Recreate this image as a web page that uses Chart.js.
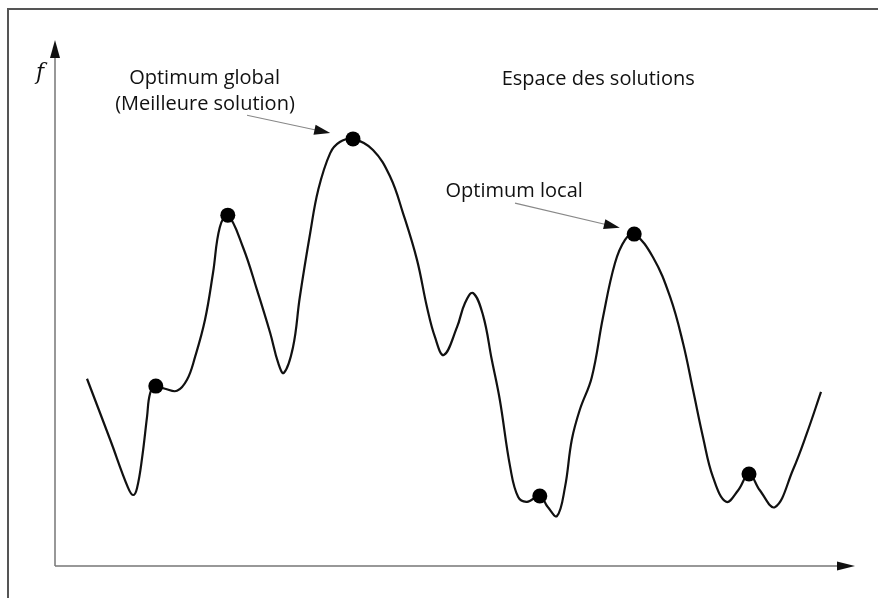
<!DOCTYPE html>
<html lang="fr">
<head>
<meta charset="utf-8">
<title>Espace des solutions</title>
<script src="https://cdn.jsdelivr.net/npm/chart.js@4.4.1/dist/chart.umd.min.js"></script>
<style>
  html, body { margin: 0; padding: 0; background: #fff; }
  .wrap { position: relative; width: 878px; height: 598px; }
  .frame {
    position: absolute; left: 7px; top: 8px; right: 0; bottom: 0;
    border-top: 2px solid #555; border-left: 2px solid #555;
    pointer-events: none;
  }
</style>
</head>
<body>
<div class="wrap">
  <canvas id="chart" width="878" height="598"></canvas>
  <div class="frame"></div>
</div>
<script>
// courbe f(x) (unités arbitraires 0..10)
const xs = [0.40, 0.69, 0.91, 0.975, 1.025, 1.09, 1.15, 1.19, 1.26, 1.375, 1.525, 1.65, 1.75, 1.875, 1.975,
  2.06, 2.16, 2.35, 2.525, 2.69, 2.79, 2.86, 2.975, 3.06, 3.19, 3.29, 3.44, 3.56, 3.725, 3.975, 4.19,
  4.35, 4.525, 4.65, 4.75, 4.86, 5.025, 5.125, 5.225, 5.35, 5.46, 5.56, 5.69, 5.79, 5.90, 6.06, 6.16,
  6.275, 6.375, 6.46, 6.56, 6.71, 6.85, 7.00, 7.125, 7.24, 7.475, 7.69, 7.85, 7.975, 8.10, 8.225,
  8.39, 8.54, 8.675, 8.81, 9.00, 9.225, 9.40, 9.575];
const fs = [3.56, 2.40, 1.50, 1.35, 1.48, 2.07, 2.83, 3.29, 3.42, 3.37, 3.33, 3.54, 3.97, 4.68, 5.57,
  6.44, 6.67, 6.06, 5.25, 4.43, 3.86, 3.67, 4.16, 5.11, 6.33, 7.15, 7.85, 8.06, 8.12, 7.91, 7.40,
  6.71, 5.82, 4.92, 4.35, 4.01, 4.54, 5.00, 5.19, 4.77, 3.92, 3.16, 1.88, 1.31, 1.22, 1.33, 1.12,
  0.95, 1.50, 2.40, 2.97, 3.59, 4.73, 5.76, 6.20, 6.31, 5.87, 5.11, 4.24, 3.35, 2.45, 1.69,
  1.22, 1.44, 1.75, 1.44, 1.12, 1.83, 2.53, 3.31];

// optima marqués d'un point
const optX = [1.26, 2.16, 3.725, 6.06, 7.24, 8.675];
const optF = [3.42, 6.67, 8.12, 1.33, 6.31, 1.75];

const notes = [
  { text: 'Optimum global', x: 1.87, y: 9.16 },
  { text: '(Meilleure solution)', x: 1.875, y: 8.67 },
  { text: 'Espace des solutions', x: 6.79, y: 9.14 },
  { text: 'Optimum local', x: 5.74, y: 7.02 }
];
const pointers = [
  { from: [2.40, 8.57], to: [3.44, 8.23] },
  { from: [5.75, 6.90], to: [7.06, 6.43] }
];

function arrowHead(ctx, x1, y1, x2, y2, len, half) {
  const a = Math.atan2(y2 - y1, x2 - x1);
  ctx.beginPath();
  ctx.moveTo(x2, y2);
  ctx.lineTo(x2 - len * Math.cos(a) + half * Math.sin(a), y2 - len * Math.sin(a) - half * Math.cos(a));
  ctx.lineTo(x2 - len * Math.cos(a) - half * Math.sin(a), y2 - len * Math.sin(a) + half * Math.cos(a));
  ctx.closePath();
  ctx.fill();
}

const axesPlugin = {
  id: 'axes',
  beforeDatasetsDraw(chart) {
    const { ctx, scales: { x, y } } = chart;
    const x0 = x.getPixelForValue(0), y0 = y.getPixelForValue(0);
    const xEnd = x.getPixelForValue(10), yEnd = y.getPixelForValue(10);
    ctx.save();
    ctx.strokeStyle = '#777';
    ctx.fillStyle = '#111';
    ctx.lineWidth = 1.5;
    ctx.beginPath();
    ctx.moveTo(x0, y0); ctx.lineTo(x0, yEnd + 10);
    ctx.moveTo(x0, y0); ctx.lineTo(xEnd - 10, y0);
    ctx.stroke();
    arrowHead(ctx, x0, y0, x0, yEnd, 18, 5);
    arrowHead(ctx, x0, y0, xEnd, y0, 18, 4.5);
    ctx.font = 'italic 22px "DejaVu Serif", "Liberation Serif", serif';
    ctx.textAlign = 'center';
    ctx.fillText('f', x0 - 15, y.getPixelForValue(9.26));
    ctx.restore();
  },
  afterDatasetsDraw(chart) {
    const { ctx, scales: { x, y } } = chart;
    ctx.save();
    ctx.fillStyle = '#111';
    ctx.font = '20px "Open Sans", sans-serif';
    ctx.textAlign = 'center';
    ctx.textBaseline = 'alphabetic';
    notes.forEach(n => ctx.fillText(n.text, x.getPixelForValue(n.x), y.getPixelForValue(n.y)));
    pointers.forEach(p => {
      const x1 = x.getPixelForValue(p.from[0]), y1 = y.getPixelForValue(p.from[1]);
      const x2 = x.getPixelForValue(p.to[0]), y2 = y.getPixelForValue(p.to[1]);
      const a = Math.atan2(y2 - y1, x2 - x1);
      ctx.strokeStyle = '#888';
      ctx.lineWidth = 1.2;
      ctx.beginPath();
      ctx.moveTo(x1, y1);
      ctx.lineTo(x2 - 10 * Math.cos(a), y2 - 10 * Math.sin(a));
      ctx.stroke();
      ctx.fillStyle = '#111';
      arrowHead(ctx, x1, y1, x2, y2, 16, 5);
    });
    ctx.restore();
  }
};

new Chart(document.getElementById('chart'), {
  type: 'line',
  data: {
    datasets: [
      {
        type: 'scatter',
        data: optX.map((v, i) => ({ x: v, y: optF[i] })),
        pointRadius: 7.5,
        pointBackgroundColor: '#000',
        pointBorderWidth: 0,
        order: 0
      },
      {
        data: xs.map((v, i) => ({ x: v, y: fs[i] })),
        borderColor: '#111',
        borderWidth: 2.2,
        pointRadius: 0,
        tension: 0.4,
        fill: false,
        order: 1
      }
    ]
  },
  options: {
    responsive: false,
    animation: false,
    layout: { padding: { left: 55, right: 23, top: 40, bottom: 32 } },
    plugins: { legend: { display: false }, tooltip: { enabled: false } },
    scales: {
      x: { type: 'linear', min: 0, max: 10, display: false },
      y: { min: 0, max: 10, display: false }
    }
  },
  plugins: [axesPlugin]
});
</script>
</body>
</html>
